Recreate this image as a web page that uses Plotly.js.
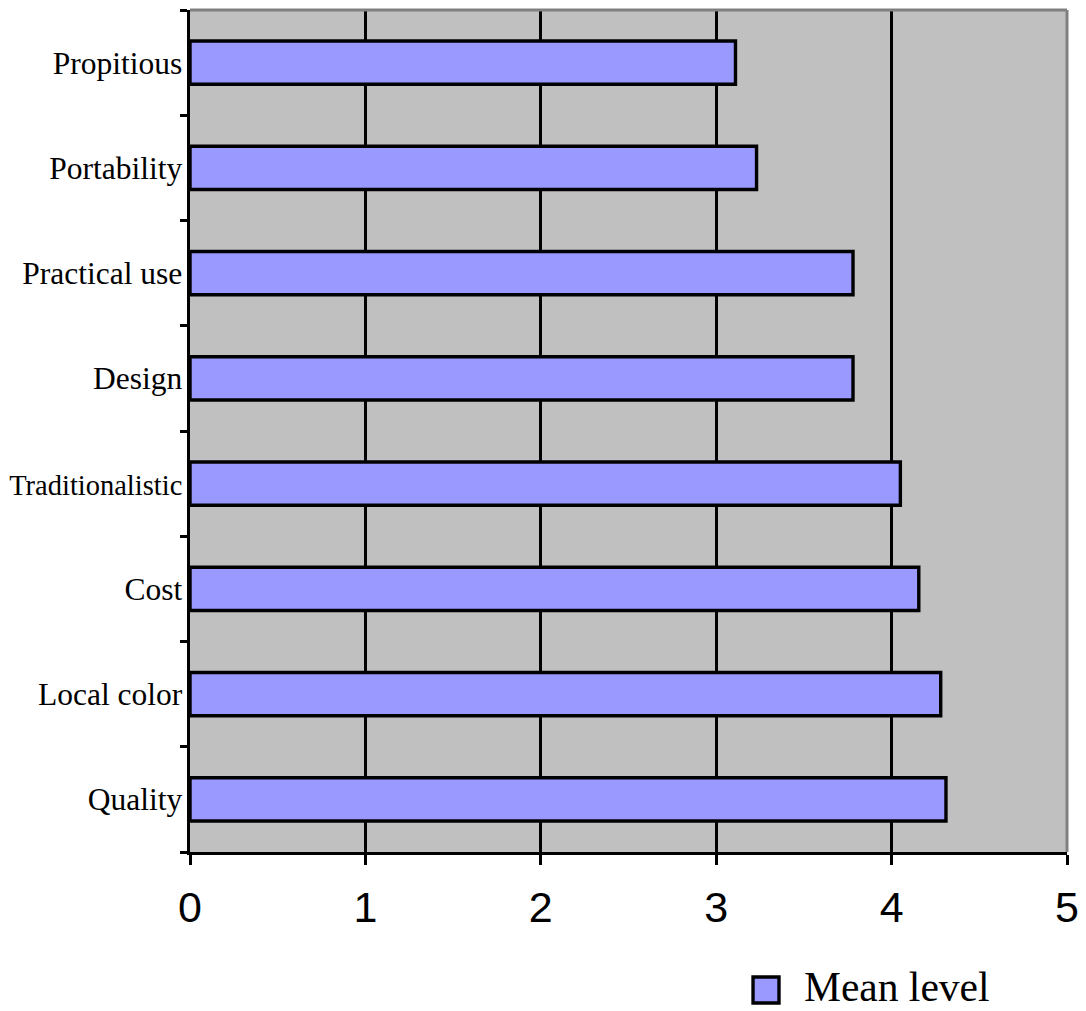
<!DOCTYPE html>
<html>
<head>
<meta charset="utf-8">
<script src="https://cdn.plot.ly/plotly-3.0.1.min.js"></script>
<style>
  html, body { margin: 0; padding: 0; background: #ffffff; }
  #chart { width: 1086px; height: 1011px; }
</style>
</head>
<body>
<div id="chart"></div>
<script>
// Attributes, listed bottom to top
const categories = ["Quality", "Local color", "Cost", "Traditionalistic", "Design", "Practical use", "Portability", "Propitious"];
const meanLevel = [4.31, 4.28, 4.155, 4.05, 3.78, 3.78, 3.23, 3.11];
const seriesName = "Mean level";
const xTicks = [0, 1, 2, 3, 4, 5];

const barFill = "#9999FF";

// long labels are set a little smaller so they fit the left margin
const yTickText = categories.map(c => c.length > 14 ? '<span style="font-size:28.5px">' + c + '</span>' : c);

const trace = {
  type: "bar",
  orientation: "h",
  name: seriesName,
  y: categories,
  x: meanLevel,
  marker: { color: barFill, line: { color: "#000000", width: 3.4 } },
  showlegend: false,
  hoverinfo: "x+y"
};

const layout = {
  width: 1086,
  height: 1011,
  margin: { l: 190, r: 19, t: 10, b: 159 },
  paper_bgcolor: "#ffffff",
  plot_bgcolor: "#C0C0C0",
  bargap: 0.59,
  xaxis: {
    range: [0, 5],
    tickvals: xTicks,
    ticktext: xTicks.map(String),
    showgrid: true,
    gridcolor: "#000000",
    gridwidth: 3.4,
    zeroline: false,
    showline: true,
    linecolor: "#000000",
    linewidth: 3.4,
    ticks: "outside",
    ticklen: 10,
    tickwidth: 3,
    tickcolor: "#000000",
    tickfont: { family: "Liberation Sans, Arial, sans-serif", size: 43, color: "#000000" },
    ticklabelstandoff: 5,
    fixedrange: true
  },
  yaxis: {
    type: "category",
    categoryorder: "array",
    categoryarray: categories,
    tickvals: categories,
    ticktext: yTickText,
    tickson: "boundaries",
    showgrid: false,
    zeroline: false,
    showline: true,
    linecolor: "#000000",
    linewidth: 3.4,
    ticks: "outside",
    ticklen: 7,
    tickwidth: 3,
    tickcolor: "#000000",
    tickfont: { family: "Liberation Serif, Times New Roman, serif", size: 31.5, color: "#000000" },
    ticklabelstandoff: -2,
    fixedrange: true
  },
  shapes: [
    // gray frame on the top and right edges of the plot area
    { type: "line", xref: "paper", yref: "paper", x0: 0, x1: 1, y0: 1, y1: 1,
      line: { color: "#808080", width: 3 }, layer: "above" },
    { type: "line", xref: "paper", yref: "paper", x0: 1, x1: 1, y0: 0, y1: 1,
      line: { color: "#808080", width: 3 }, layer: "above" },
    // legend key
    { type: "rect", xref: "paper", yref: "paper",
      x0: 0.642, x1: 0.6716, y0: -0.1485, y1: -0.1793,
      fillcolor: barFill, line: { color: "#000000", width: 3.4 } }
  ],
  annotations: [
    { xref: "paper", yref: "paper", x: 0.6975, y: -0.1605,
      xanchor: "left", yanchor: "middle", showarrow: false,
      text: seriesName,
      font: { family: "Liberation Serif, Times New Roman, serif", size: 41.5, color: "#000000" } }
  ]
};

Plotly.newPlot("chart", [trace], layout, { displayModeBar: false, staticPlot: true });
</script>
</body>
</html>
